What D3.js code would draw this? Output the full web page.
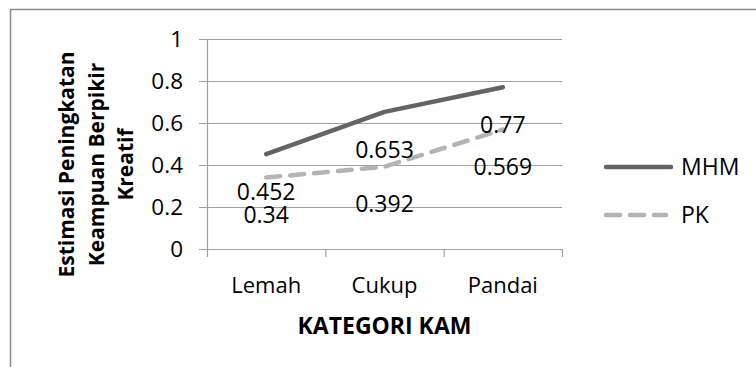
<!DOCTYPE html>
<html><head><meta charset="utf-8">
<script src="https://cdn.jsdelivr.net/npm/d3@7"></script>
<style>
html,body{margin:0;padding:0;background:#fff;}
svg{display:block;font-family:"Open Sans",sans-serif;}
</style></head>
<body>
<svg id="c" width="756" height="367"></svg>
<script>
const categories = ["Lemah", "Cukup", "Pandai"];
const mhmValues = [0.452, 0.653, 0.77];
const pkValues = [0.34, 0.392, 0.569];
const yTicks = [0, 0.2, 0.4, 0.6, 0.8, 1];
const seriesNames = ["MHM", "PK"];
const yTitleLines = ["Estimasi Peningkatan", "Keampuan Berpikir", "Kreatif"];
const xTitle = "KATEGORI KAM";

const svg = d3.select("#c");
// outer chart border
svg.append("rect").attr("x", 10.5).attr("y", 9.5).attr("width", 800).attr("height", 400)
  .attr("fill", "none").attr("stroke", "#8c8c8c").attr("stroke-width", 1.5);

const L = 207, R = 562, T = 39, B = 249;
const x = d3.scaleBand().domain(categories).range([L, R]);
const y = d3.scaleLinear().domain([0, 1]).range([B, T]);

// gridlines
svg.append("g").selectAll("line").data(yTicks).join("line")
  .attr("x1", L - 8).attr("x2", R).attr("y1", d => y(d) + 0.5).attr("y2", d => y(d) + 0.5)
  .attr("stroke", "#a0a0a0").attr("stroke-width", 1.2);
// y axis line
svg.append("line").attr("x1", L + 0.5).attr("x2", L + 0.5).attr("y1", T).attr("y2", B + 8)
  .attr("stroke", "#a0a0a0").attr("stroke-width", 1.2);
// x ticks at band boundaries
const bounds = categories.map(c => x(c)).concat([x(categories[2]) + x.bandwidth()]);
svg.append("g").selectAll("line").data(bounds.slice(1)).join("line")
  .attr("x1", d => d + 0.5).attr("x2", d => d + 0.5).attr("y1", B).attr("y2", B + 8)
  .attr("stroke", "#a0a0a0").attr("stroke-width", 1.2);

// y tick labels
svg.append("g").selectAll("text").data(yTicks).join("text")
  .attr("x", 183).attr("y", d => y(d)).attr("dy", "0.36em")
  .attr("text-anchor", "end").attr("font-size", 22.5).attr("fill", "#000")
  .text(d => d3.format("")(d));

// category labels
svg.append("g").selectAll("text").data(categories).join("text")
  .attr("x", d => x(d) + x.bandwidth() / 2).attr("y", 285).attr("dy", "0.36em")
  .attr("text-anchor", "middle").attr("font-size", 22).text(d => d);

// x title
svg.append("text").attr("x", (L + R) / 2).attr("y", 326).attr("dy", "0.36em")
  .attr("text-anchor", "middle").attr("font-size", 23).attr("font-weight", "bold").text(xTitle);

// y title
const yt = svg.append("text").attr("transform", "translate(0,164.5) rotate(-90)")
  .attr("text-anchor", "middle").attr("font-size", 21).attr("font-weight", "bold");
const titleBase = [74, 104, 133];
yTitleLines.forEach((t, i) => {
  yt.append("tspan").attr("x", 0).attr("y", titleBase[i]).text(t);
});

const cx = d => x(d) + x.bandwidth() / 2;
const line = d3.line().x((d, i) => cx(categories[i])).y(d => y(d));

svg.append("path").datum(mhmValues).attr("d", line).attr("fill", "none")
  .attr("stroke", "#646464").attr("stroke-width", 4.5).attr("stroke-linecap", "round").attr("stroke-linejoin", "round");
svg.append("path").datum(pkValues).attr("d", line).attr("fill", "none")
  .attr("stroke", "#b4b4b4").attr("stroke-width", 4.5).attr("stroke-linecap", "round").attr("stroke-linejoin", "round")
  .attr("stroke-dasharray", "14,10");

// data labels (placed below points)
const labelData = [];
mhmValues.forEach((v, i) => labelData.push({c: categories[i], v}));
pkValues.forEach((v, i) => labelData.push({c: categories[i], v}));
svg.append("g").selectAll("text").data(labelData).join("text")
  .attr("x", d => cx(d.c)).attr("y", d => y(d.v) + 37.5).attr("dy", "0.36em")
  .attr("text-anchor", "middle").attr("font-size", 23).text(d => d.v);

// legend
const leg = svg.append("g");
const legY = [167, 215];
const colors = ["#646464", "#b4b4b4"];
seriesNames.forEach((n, i) => {
  leg.append("line").attr("x1", 606).attr("x2", i === 0 ? 671 : 666).attr("y1", legY[i]).attr("y2", legY[i])
    .attr("stroke", colors[i]).attr("stroke-width", 4.5).attr("stroke-linecap", "round")
    .attr("stroke-dasharray", i === 1 ? "14,10" : null);
  leg.append("text").attr("x", 681).attr("y", legY[i]).attr("dy", "0.36em").attr("font-size", 23).text(n);
});
</script>
</body></html>
